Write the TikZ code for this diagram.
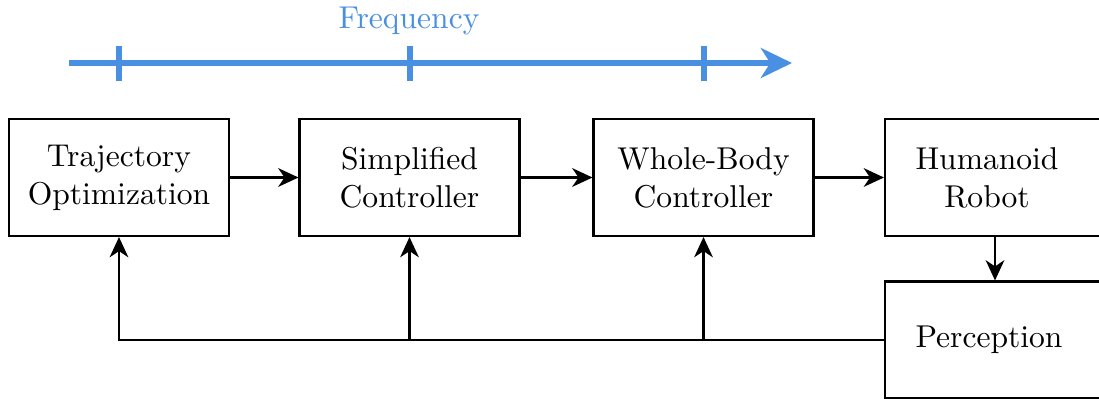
\documentclass[tikz,border=0pt]{standalone}
\usetikzlibrary{arrows.meta}
\definecolor{freqblue}{RGB}{74,144,226}
\begin{document}
\begin{tikzpicture}[x=0.3215pt,y=-0.3215pt,
  font=\fontsize{10.15pt}{12.2pt}\selectfont,
  block/.style={draw, line width=0.7pt, minimum width=70.7pt, minimum height=37.6pt, inner sep=0pt, align=center},
  plain/.style={inner sep=0pt, align=center},
  flow/.style={line width=0.7pt, -{Stealth[length=6.5pt,width=6pt,inset=2pt]}},
  axis/.style={freqblue, line width=1.9pt},
  tick/.style={freqblue, line width=1.7pt}]
\useasboundingbox (0,0) rectangle (1099,398);
\clip (0,0) rectangle (1099,398);

% frequency axis
\coordinate (fstart) at (69,63);
\coordinate (fend) at (792,63);
\draw[axis, -{Stealth[length=10pt,width=9.6pt,inset=3pt]}] (fstart) -- (fend);
\foreach \name/\x in {ta/119, tb/410, tc/704} {
  \coordinate (\name top) at (\x,46);
  \coordinate (\name bot) at (\x,81);
  \draw[tick] (\name top) -- (\name bot);
}
\node[plain, text=freqblue] (freq) at (409,21) {Frequency};

% control chain
\node[block] (traj) at (119,177.5) {Trajectory\\Optimization};
\node[block] (simp) at (409.5,177.5) {Simplified\\Controller};
\node[block] (wbc) at (703.5,177.5) {Whole-Body\\Controller};
\node[block] (robot) at (995,177.5) {};
\node[plain] (robottext) at (987,177.5) {Humanoid\\Robot};
\node[block] (perc) at (995,340) {};
\node[plain] (perctext) at (989,340) {Perception};

\draw[flow] (traj) -- (simp);
\draw[flow] (simp) -- (wbc);
\draw[flow] (wbc) -- (robot);
\draw[flow] (robot) -- (perc);

% feedback from perception to each controller
\coordinate (fbB) at (simp.south |- perc.west);
\coordinate (fbC) at (wbc.south |- perc.west);
\draw[flow] (perc.west) -| (traj.south);
\draw[flow] (fbB) -- (simp.south);
\draw[flow] (fbC) -- (wbc.south);
\end{tikzpicture}
\end{document}
